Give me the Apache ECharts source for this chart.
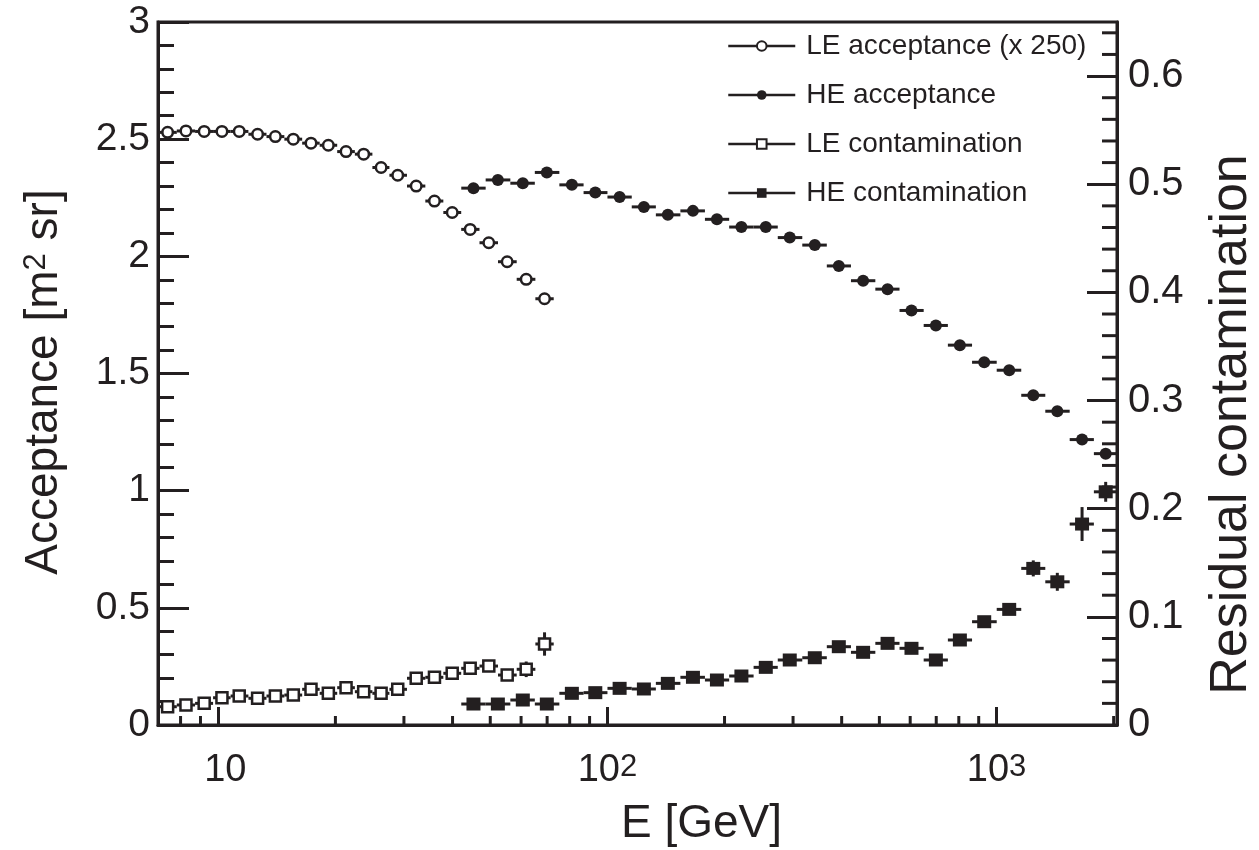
<!DOCTYPE html>
<html><head><meta charset="utf-8">
<script src="https://cdn.jsdelivr.net/npm/echarts@6/dist/echarts.min.js"></script>
<style>html,body{margin:0;padding:0;background:#fff}#c{width:1259px;height:850px}</style>
</head><body><div id="c"></div>
<script>
// ---- data ----
const leE = [7.41, 8.26, 9.20, 10.22, 11.32, 12.62, 14.02, 15.59, 17.31, 19.18, 21.30, 23.64, 26.21, 28.92, 32.26, 35.94, 39.92, 44.40, 49.57, 55.27, 61.85, 68.94];
const leAcceptance = [2.529, 2.535, 2.533, 2.533, 2.533, 2.521, 2.511, 2.500, 2.483, 2.474, 2.447, 2.436, 2.379, 2.346, 2.300, 2.236, 2.187, 2.115, 2.058, 1.977, 1.902, 1.819];
const leContamination = [0.0169, 0.0185, 0.0200, 0.0252, 0.0268, 0.0247, 0.0268, 0.0277, 0.0330, 0.0293, 0.0345, 0.0308, 0.0293, 0.0330, 0.0432, 0.0441, 0.0478, 0.0524, 0.0545, 0.0462, 0.0515, 0.0749];
const leContErr = [0.001, 0.001, 0.001, 0.001, 0.001, 0.001, 0.001, 0.001, 0.001, 0.001, 0.0015, 0.0015, 0.0015, 0.002, 0.002, 0.002, 0.0025, 0.003, 0.003, 0.004, 0.0072, 0.0108];
const heE = [45.27, 52.30, 60.62, 69.88, 81.04, 93.09, 107.5, 124.1, 143.0, 165.9, 191.2, 221.0, 255.3, 294.2, 341.2, 393.3, 454.1, 524.8, 604.6, 698.5, 805.1, 929.8, 1078, 1243, 1433, 1659, 1908];
const heAcceptance = [2.291, 2.326, 2.312, 2.358, 2.305, 2.272, 2.253, 2.211, 2.177, 2.194, 2.158, 2.125, 2.125, 2.080, 2.048, 1.959, 1.896, 1.860, 1.769, 1.705, 1.621, 1.548, 1.514, 1.407, 1.339, 1.218, 1.158];
const heContamination = [0.0194, 0.0194, 0.0231, 0.0194, 0.0293, 0.0299, 0.0339, 0.0333, 0.0385, 0.0441, 0.0416, 0.0453, 0.0533, 0.0601, 0.0622, 0.0724, 0.0672, 0.0755, 0.0709, 0.0601, 0.0786, 0.0955, 0.1069, 0.1448, 0.1324, 0.1858, 0.2156];
const heContErr = [0.001, 0.001, 0.001, 0.001, 0.001, 0.001, 0.001, 0.001, 0.001, 0.0015, 0.0015, 0.0015, 0.002, 0.002, 0.002, 0.0025, 0.0025, 0.003, 0.003, 0.003, 0.0035, 0.004, 0.0045, 0.0074, 0.0083, 0.0157, 0.0092];
const xMinorTicks = [8, 9, 20, 30, 40, 50, 60, 70, 80, 90, 200, 300, 400, 500, 600, 700, 800, 900, 2000];
const rightMinorTicks = [0.02, 0.04, 0.06, 0.08, 0.12, 0.14, 0.16, 0.18, 0.22, 0.24, 0.26, 0.28, 0.32, 0.34, 0.36, 0.38, 0.42, 0.44, 0.46, 0.48, 0.52, 0.54, 0.56, 0.58, 0.62, 0.64];
const seriesNames = ['LE acceptance (x 250)', 'HE acceptance', 'LE contamination', 'HE contamination'];

// ---- styling ----
const INK = '#231f20';
const FONT = '"Liberation Sans", Arial, Helvetica, sans-serif';
const X_MIN = 7, X_MAX = 2040;

function binEdges(xs) {
  const lg = xs.map(Math.log10);
  return xs.map((x, i) => {
    const lo = i > 0 ? (lg[i - 1] + lg[i]) / 2 : lg[i] - (lg[1] - lg[0]) / 2;
    const hi = i < xs.length - 1 ? (lg[i] + lg[i + 1]) / 2 : lg[i] + (lg[i] - lg[i - 1]) / 2;
    return [Math.pow(10, lo), Math.pow(10, hi)];
  });
}

function errSeries(xs, ys, errs, yAxisIndex) {
  const edges = binEdges(xs);
  const data = xs.map((x, i) => [x, ys[i], edges[i][0], edges[i][1], errs ? errs[i] : 0]);
  return {
    type: 'custom', xAxisIndex: 0, yAxisIndex: yAxisIndex, data: data, z: 2, silent: true, clip: false,
    animation: false, encode: { x: 0, y: 1 },
    renderItem: function (params, api) {
      const x = api.value(0), y = api.value(1), lo = api.value(2), hi = api.value(3), e = api.value(4);
      const c = api.coord([x, y]), a = api.coord([lo, y]), b = api.coord([hi, y]);
      const children = [{ type: 'line', shape: { x1: a[0], y1: c[1], x2: b[0], y2: c[1] }, style: { stroke: INK, lineWidth: 3 } }];
      if (e > 0) {
        const t = api.coord([x, y + e]), d = api.coord([x, y - e]);
        children.push({ type: 'line', shape: { x1: c[0], y1: t[1], x2: c[0], y2: d[1] }, style: { stroke: INK, lineWidth: 3 } });
      }
      return { type: 'group', children: children };
    }
  };
}

function markerSeries(name, xs, ys, yAxisIndex, symbol, size, filled) {
  return {
    name: name, type: 'line', xAxisIndex: 0, yAxisIndex: yAxisIndex,
    data: xs.map((x, i) => [x, ys[i]]),
    symbol: symbol, symbolSize: size, showSymbol: true, showAllSymbol: true,
    lineStyle: { width: 0, color: INK },
    itemStyle: filled ? { color: INK, borderWidth: 0 } : { color: '#fff', borderColor: INK, borderWidth: 2.5 },
    z: 5, silent: true, clip: false, animation: false
  };
}

const chart = echarts.init(document.getElementById('c'), null, { renderer: 'canvas' });
const option = {
  backgroundColor: '#fff',
  animation: false,
  grid: { left: 158, right: 142, top: 22, bottom: 125, show: true, borderColor: INK, borderWidth: 3,
    containLabel: false, outerBoundsMode: 'none' },
  legend: {
    data: seriesNames, orient: 'vertical', left: 727, top: 32, padding: 0,
    itemWidth: 67, itemHeight: 12, itemGap: 21, selectedMode: false,
    lineStyle: { color: INK, width: 2.5 },
    textStyle: { fontFamily: FONT, fontSize: 28, color: INK, padding: [0, 0, 0, 6] }
  },
  xAxis: {
    type: 'log', logBase: 10, min: X_MIN, max: X_MAX,
    name: 'E [GeV]', nameLocation: 'middle', nameGap: 76, nameMoveOverlap: false,
    nameTextStyle: { fontFamily: FONT, fontSize: 46, color: INK, padding: [0, 0, 0, 128] },
    axisLine: { show: true, lineStyle: { color: INK, width: 3 } },
    axisTick: { show: true, inside: true, length: 18, lineStyle: { color: INK, width: 3 } },
    minorTick: { show: false },
    splitLine: { show: false },
    axisLabel: {
      show: true, margin: 27, fontFamily: FONT, fontSize: 38, color: INK,
      showMinLabel: false, showMaxLabel: false,
      formatter: function (v) {
        const e = Math.log10(v), r = Math.round(e);
        if (Math.abs(e - r) > 1e-6) return '';
        return r === 1 ? '{ten|10}' : '10{sup|' + r + '}';
      },
      rich: {
        ten: { fontFamily: FONT, fontSize: 38, color: INK, padding: [0, 0, 0, 14] },
        sup: { fontFamily: FONT, fontSize: 31, color: INK, verticalAlign: 'top', lineHeight: 18 }
      }
    }
  },
  yAxis: [
    {
      type: 'value', min: 0, max: 3, interval: 0.5, position: 'left',
      name: 'Acceptance [m{sup|2} sr]', nameLocation: 'middle', nameGap: 91, nameRotate: 90, nameMoveOverlap: false,
      nameTextStyle: { fontFamily: FONT, fontSize: 46, color: INK, padding: [0, 17, 0, 0],
        rich: { sup: { fontFamily: FONT, fontSize: 31, color: INK, verticalAlign: 'top', lineHeight: 20 } } },
      axisLine: { show: true, lineStyle: { color: INK, width: 3 } },
      axisTick: { show: true, inside: true, length: 31, lineStyle: { color: INK, width: 3 } },
      minorTick: { show: true, splitNumber: 5, length: 16, lineStyle: { color: INK, width: 3 } },
      splitLine: { show: false },
      axisLabel: { margin: 8, fontFamily: FONT, fontSize: 39, color: INK, formatter: function (v) { return String(v); } }
    },
    {
      type: 'value', min: 0, max: 0.65, interval: 0.1, position: 'right',
      name: 'Residual contamination', nameLocation: 'middle', nameGap: 89, nameRotate: 90, nameMoveOverlap: false,
      nameTextStyle: { fontFamily: FONT, fontSize: 52, color: INK, padding: [0, 102, 0, 0] },
      axisLine: { show: true, lineStyle: { color: INK, width: 3 } },
      axisTick: { show: true, inside: true, length: 30, lineStyle: { color: INK, width: 3 } },
      minorTick: { show: false },
      splitLine: { show: false },
      axisLabel: { margin: 11, fontFamily: FONT, fontSize: 40, color: INK, showMaxLabel: false,
        formatter: function (v) { return v === 0 ? '0' : v.toFixed(1); } }
    }
  ],
  series: [
    errSeries(leE, leAcceptance, null, 0),
    errSeries(heE, heAcceptance, null, 0),
    errSeries(leE, leContamination, leContErr, 1),
    errSeries(heE, heContamination, heContErr, 1),
    markerSeries(seriesNames[0], leE, leAcceptance, 0, 'circle', 10.5, false),
    markerSeries(seriesNames[1], heE, heAcceptance, 0, 'circle', 12, true),
    markerSeries(seriesNames[2], leE, leContamination, 1, 'rect', 11, false),
    markerSeries(seriesNames[3], heE, heContamination, 1, 'rect', [14, 13], true),
    {
      type: 'custom', xAxisIndex: 0, yAxisIndex: 0, data: xMinorTicks.map(v => [v, 0]), silent: true, clip: false, z: 4,
      animation: false, encode: { x: 0, y: 1 },
      renderItem: function (params, api) {
        const x = api.coord([api.value(0), 0])[0];
        const cs = params.coordSys, yb = cs.y + cs.height;
        return { type: 'line', shape: { x1: x, y1: yb, x2: x, y2: yb - 9 }, style: { stroke: INK, lineWidth: 3 } };
      }
    },
    {
      type: 'custom', xAxisIndex: 0, yAxisIndex: 1, data: rightMinorTicks.map(v => [10, v]), silent: true, clip: false, z: 4,
      animation: false, encode: { x: 0, y: 1 },
      renderItem: function (params, api) {
        const y = api.coord([10, api.value(1)])[1];
        const cs = params.coordSys, xr = cs.x + cs.width;
        return { type: 'line', shape: { x1: xr, y1: y, x2: xr - 15, y2: y }, style: { stroke: INK, lineWidth: 3 } };
      }
    }
  ]
};
chart.setOption(option);
</script></body></html>
